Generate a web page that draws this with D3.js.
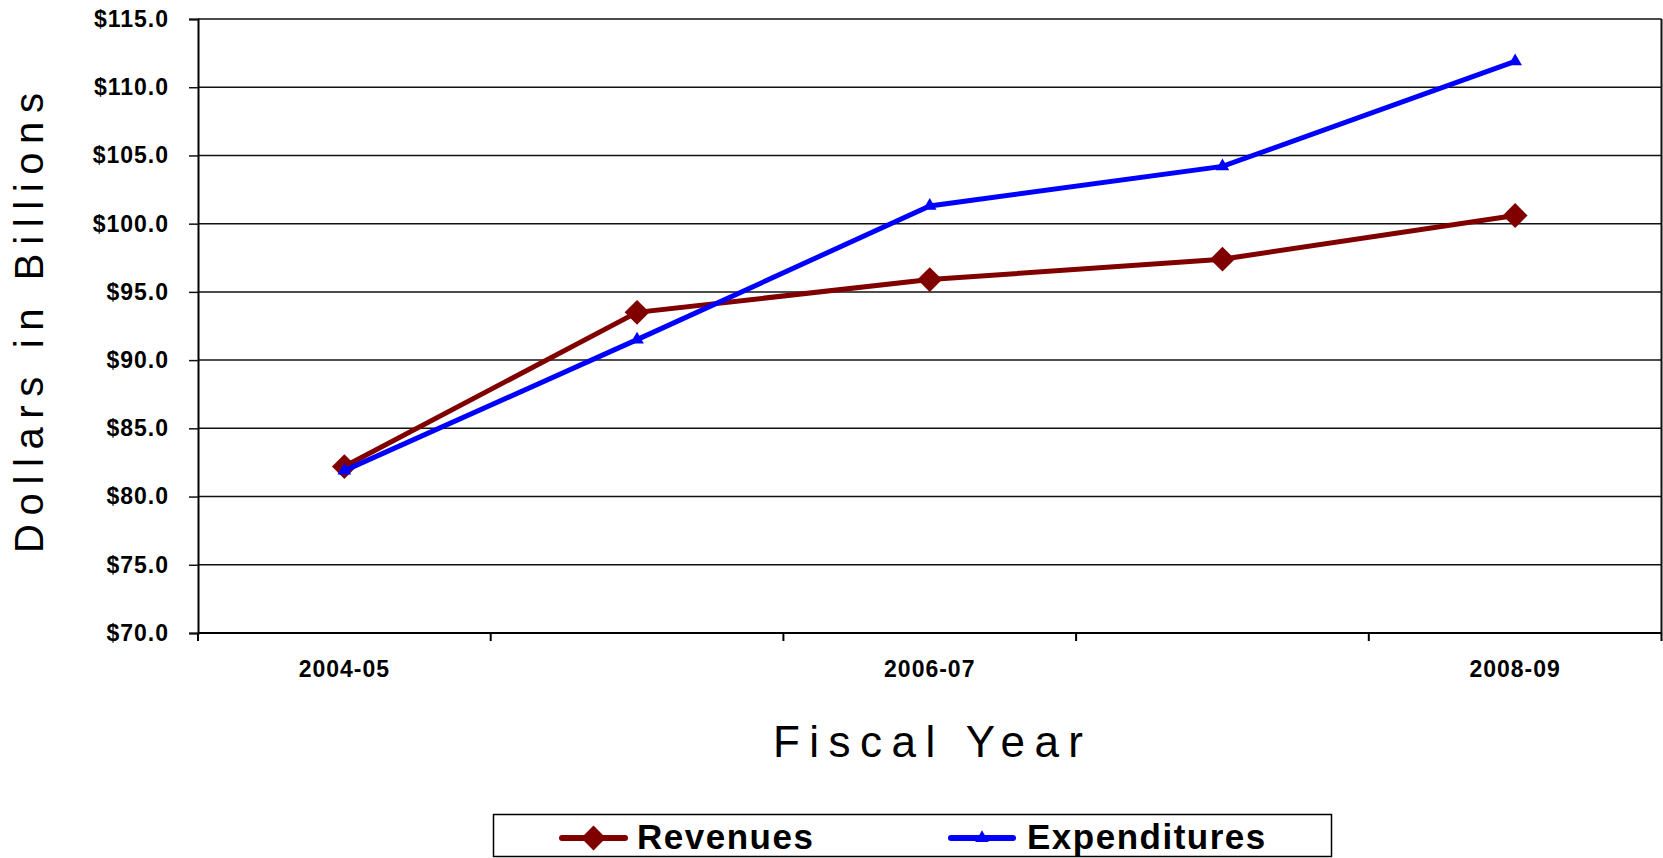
<!DOCTYPE html>
<html>
<head>
<meta charset="utf-8">
<script src="https://cdn.jsdelivr.net/npm/d3@7"></script>
<style>
  body { margin: 0; background: #fff; }
  svg { display: block; font-family: "Liberation Sans", Arial, sans-serif; }
</style>
</head>
<body>
<div id="chart"></div>
<script>
var categories = ["2004-05", "2005-06", "2006-07", "2007-08", "2008-09"];
var revenues = [82.2, 93.5, 95.9, 97.4, 100.6];
var expenditures = [81.9, 91.5, 101.3, 104.2, 111.9];
var yTicks = [70, 75, 80, 85, 90, 95, 100, 105, 110, 115];
var seriesNames = ["Revenues", "Expenditures"];

var width = 1663, height = 858;
var plot = { left: 198, right: 1661.5, top: 19, bottom: 633 };

var svg = d3.select("#chart").append("svg")
  .attr("width", width)
  .attr("height", height);

var x = d3.scaleBand()
  .domain(categories)
  .range([plot.left, plot.right]);

var y = d3.scaleLinear()
  .domain([70, 115])
  .range([plot.bottom, plot.top]);

var cx = function (c) { return x(c) + x.bandwidth() / 2; };

// gridlines
svg.append("g")
  .selectAll("line")
  .data(yTicks)
  .enter().append("line")
  .attr("x1", plot.left).attr("x2", plot.right)
  .attr("y1", function (d) { return y(d); })
  .attr("y2", function (d) { return y(d); })
  .attr("stroke", "#111")
  .attr("stroke-width", 1.5);

// right border
svg.append("line")
  .attr("x1", plot.right).attr("x2", plot.right)
  .attr("y1", plot.top).attr("y2", plot.bottom)
  .attr("stroke", "#111").attr("stroke-width", 2);

// y axis
var yAxis = svg.append("g")
  .attr("transform", "translate(" + plot.left + ",0)")
  .call(d3.axisLeft(y).tickValues(yTicks).tickSize(9).tickPadding(20)
    .tickFormat(function (d) { return "$" + d.toFixed(1); }));
yAxis.select(".domain").attr("stroke", "#000").attr("stroke-width", 2);
yAxis.selectAll(".tick line").attr("stroke", "#111").attr("stroke-width", 1.5);
yAxis.selectAll("text")
  .attr("font-family", "Liberation Sans, Arial, sans-serif")
  .attr("font-size", 23)
  .attr("font-weight", "bold")
  .attr("letter-spacing", 1)
  .attr("fill", "#000");

// x axis
var xAxis = svg.append("g")
  .attr("transform", "translate(0," + plot.bottom + ")")
  .call(d3.axisBottom(x).tickSize(0).tickPadding(28)
    .tickFormat(function (d, i) { return i % 2 === 0 ? d : ""; }));
xAxis.select(".domain").remove();
xAxis.selectAll("text")
  .attr("font-family", "Liberation Sans, Arial, sans-serif")
  .attr("font-size", 23)
  .attr("font-weight", "bold")
  .attr("letter-spacing", 1)
  .attr("fill", "#000");

svg.append("line")
  .attr("x1", plot.left).attr("x2", plot.right)
  .attr("y1", plot.bottom).attr("y2", plot.bottom)
  .attr("stroke", "#000").attr("stroke-width", 2);

var bounds = categories.map(function (c) { return x(c); }).concat([x.range()[1]]);
svg.append("g")
  .selectAll("line")
  .data(bounds)
  .enter().append("line")
  .attr("x1", function (d) { return d; }).attr("x2", function (d) { return d; })
  .attr("y1", plot.bottom).attr("y2", plot.bottom + 8)
  .attr("stroke", "#000").attr("stroke-width", 2);

// axis titles
svg.append("text")
  .attr("transform", "translate(43,323) rotate(-90)")
  .attr("text-anchor", "middle")
  .attr("font-size", 40)
  .attr("textLength", 460)
  .attr("lengthAdjust", "spacing")
  .attr("fill", "#000")
  .text("Dollars in Billions");

svg.append("text")
  .attr("x", 928)
  .attr("y", 757)
  .attr("text-anchor", "middle")
  .attr("font-size", 44)
  .attr("textLength", 310)
  .attr("lengthAdjust", "spacing")
  .attr("fill", "#000")
  .text("Fiscal Year");

// lines
var line = d3.line()
  .x(function (d, i) { return cx(categories[i]); })
  .y(function (d) { return y(d); });

var diamond = d3.symbol().type(d3.symbolDiamond2).size(392);
var triangle = d3.symbol().type(d3.symbolTriangle).size(80);

svg.append("path")
  .datum(revenues)
  .attr("d", line)
  .attr("fill", "none")
  .attr("stroke", "#800000")
  .attr("stroke-width", 5);

svg.append("g")
  .selectAll("path")
  .data(revenues)
  .enter().append("path")
  .attr("d", diamond)
  .attr("transform", function (d, i) { return "translate(" + cx(categories[i]) + "," + y(d) + ")"; })
  .attr("fill", "#800000");

svg.append("path")
  .datum(expenditures)
  .attr("d", line)
  .attr("fill", "none")
  .attr("stroke", "#0000ff")
  .attr("stroke-width", 5);

svg.append("g")
  .selectAll("path")
  .data(expenditures)
  .enter().append("path")
  .attr("d", triangle)
  .attr("transform", function (d, i) { return "translate(" + cx(categories[i]) + "," + y(d) + ")"; })
  .attr("fill", "#0000ff");

// legend
var legend = svg.append("g");
legend.append("rect")
  .attr("x", 493.5).attr("y", 814.5)
  .attr("width", 838).attr("height", 42)
  .attr("fill", "#fff")
  .attr("stroke", "#000")
  .attr("stroke-width", 1.5);

var legendItems = [
  { name: seriesNames[0], color: "#800000", sym: diamond, x0: 559, x1: 628, tx: 637 },
  { name: seriesNames[1], color: "#0000ff", sym: triangle, x0: 948, x1: 1016, tx: 1027 }
];

legendItems.forEach(function (it) {
  legend.append("line")
    .attr("x1", it.x0 + 3).attr("x2", it.x1 - 3)
    .attr("y1", 838).attr("y2", 838)
    .attr("stroke", it.color)
    .attr("stroke-width", 6)
    .attr("stroke-linecap", "round");
  legend.append("path")
    .attr("d", it.sym)
    .attr("transform", "translate(" + ((it.x0 + it.x1) / 2) + ",838)")
    .attr("fill", it.color);
  legend.append("text")
    .attr("x", it.tx)
    .attr("y", 849)
    .attr("font-size", 35)
    .attr("font-weight", "bold")
    .attr("letter-spacing", 1.5)
    .attr("fill", "#000")
    .text(it.name);
});
</script>
</body>
</html>
